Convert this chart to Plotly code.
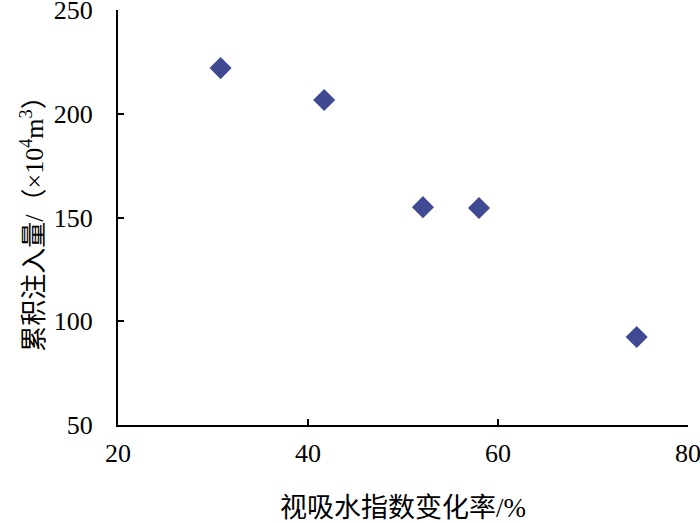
import plotly.graph_objects as go

x_vals = [30.8, 41.7, 52.1, 58.0, 74.6]
y_vals = [222.0, 206.6, 155.0, 154.6, 92.4]
x_ticks = [20, 40, 60, 80]
y_ticks = [50, 100, 150, 200, 250]

FONT = "Liberation Serif, Times New Roman, Noto Sans CJK SC, serif"

fig = go.Figure()
fig.add_trace(go.Scatter(
    x=x_vals, y=y_vals, mode="markers",
    marker=dict(symbol="diamond", size=17, color="#3F4A92", line=dict(width=0)),
    showlegend=False, cliponaxis=False,
))

axis_common = dict(
    showline=True, linecolor="black", linewidth=2,
    ticks="inside", ticklen=6, tickwidth=1.5, tickcolor="black",
    showgrid=False, zeroline=False, automargin=False,
    ticklabeloverflow="allow",
    tickfont=dict(family=FONT, size=26, color="black"),
    mirror=False,
)

fig.update_layout(
    width=700, height=523,
    margin=dict(l=118, r=12, t=10, b=98),
    paper_bgcolor="white", plot_bgcolor="white",
    xaxis=dict(range=[20, 80], tickvals=x_ticks, ticklabelstandoff=4,
               title=dict(text="视吸水指数变化率/%", font=dict(family=FONT, size=27, color="black"), standoff=34),
               **axis_common),
    yaxis=dict(range=[50, 250], tickvals=y_ticks, ticklabelstandoff=18,
               title=dict(text="累积注入量/（×10<sup>4</sup>m<sup>3</sup>）", font=dict(family=FONT, size=26, color="black"), standoff=3),
               **axis_common),
)

fig.write_html("out.html", post_script="document.body.style.margin='0';",
               config={"displayModeBar": False})
